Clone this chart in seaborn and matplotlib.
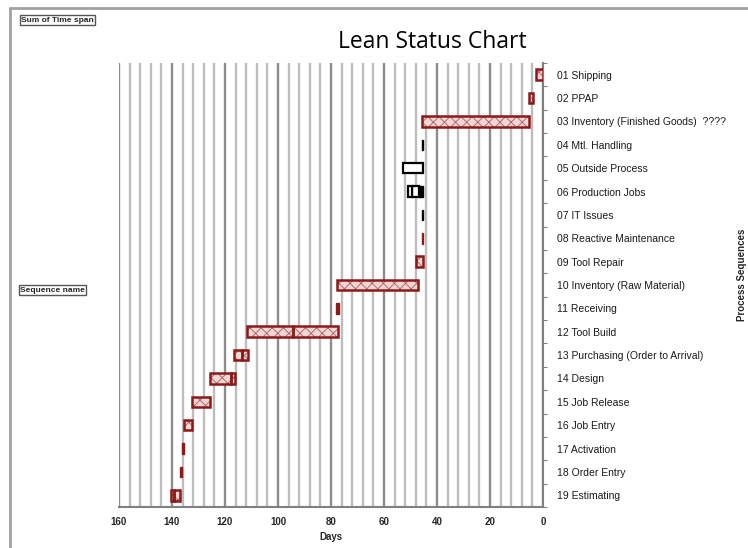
import matplotlib
matplotlib.use("Agg")
import matplotlib.pyplot as plt
from matplotlib.lines import Line2D
from matplotlib.ticker import MultipleLocator
import seaborn as sns

# process sequences, top to bottom
tasks = ["01 Shipping", "02 PPAP", "03 Inventory (Finished Goods)  ????",
         "04 Mtl. Handling", "05 Outside Process", "06 Production Jobs",
         "07 IT Issues", "08 Reactive Maintenance", "09 Tool Repair",
         "10 Inventory (Raw Material)", "11 Receiving", "12 Tool Build",
         "13 Purchasing (Order to Arrival)", "14 Design", "15 Job Release",
         "16 Job Entry", "17 Activation", "18 Order Entry", "19 Estimating"]

# time span segments (days before ship)
seg_task = [0, 1, 2, 3, 4, 5, 5, 5, 6, 7, 8, 9, 10, 11, 11, 12, 12,
            13, 13, 14, 15, 16, 17, 18, 18]
seg_start = [0.0, 3.8, 5.2, 45.1, 45.2, 45.2, 46.9, 49.5, 45.1, 45.3, 45.3,
             47.2, 77.0, 77.5, 94.3, 111.4, 113.4, 116.4, 117.9, 125.5,
             132.4, 135.5, 136.3, 137.0, 139.1]
seg_end = [2.6, 5.3, 45.6, 45.5, 52.9, 46.9, 49.5, 51.1, 45.5, 45.7, 47.8,
           77.9, 78.3, 94.3, 111.6, 113.4, 116.6, 117.9, 125.6, 132.6,
           135.5, 136.4, 137.1, 139.1, 140.5]
seg_kind = ["red", "red", "red", "black", "white", "black", "white", "white",
            "black", "darkred", "red", "red", "darkred", "red", "red", "red",
            "red", "red", "red", "red", "red", "darkred", "darkred", "red", "red"]

sns.set_style("white")
plt.rcParams['font.family'] = ['Liberation Sans', 'DejaVu Sans']
plt.rcParams['hatch.linewidth'] = 0.7

fig = plt.figure(figsize=(7.48, 5.48), dpi=100)
ax = fig.add_axes([119 / 748, 1 - 507 / 548, 424 / 748, 444 / 548])

red = "#8b1a1a"
h = 0.45
for t, s, e, k in zip(seg_task, seg_start, seg_end, seg_kind):
    w = e - s
    if k == "red":
        ax.barh(t, w, left=s, height=h, color="#f1d6d6", hatch="xxx",
                edgecolor="#b86a6a", linewidth=0, zorder=3)
        ax.barh(t, w, left=s, height=h, fill=False, edgecolor=red,
                linewidth=1.8, zorder=4)
    elif k == "darkred":
        ax.barh(t, w, left=s, height=h, color=red, edgecolor=red,
                linewidth=1.0, zorder=4)
    elif k == "black":
        ax.barh(t, w, left=s, height=h, color="black", edgecolor="black",
                linewidth=1.0, zorder=4)
    else:
        ax.barh(t, w, left=s, height=h, color="white", edgecolor="black",
                linewidth=1.6, zorder=4)

ax.set_xlim(160, 0)
ax.set_ylim(len(tasks) - 0.5, -0.5)

ax.xaxis.set_major_locator(MultipleLocator(20))
ax.xaxis.set_minor_locator(MultipleLocator(4))
ax.grid(which="major", axis="x", color="#8c8c8c", linewidth=1.7, zorder=0)
ax.grid(which="minor", axis="x", color="#bdbdbd", linewidth=1.7, zorder=0)
ax.set_axisbelow(True)

ax.yaxis.tick_right()
ax.set_yticks([i - 0.5 for i in range(len(tasks) + 1)])
ax.set_yticklabels([])
ax.set_yticks(range(len(tasks)), minor=True)
ax.set_yticklabels(tasks, minor=True, fontsize=7.5, color="#1a1a1a")
ax.tick_params(axis="y", which="major", length=3, color="#808080", right=True, left=False)
ax.tick_params(axis="y", which="minor", length=0, pad=10, right=True, left=False)
ax.tick_params(axis="x", which="major", length=5, color="#808080", labelsize=7, pad=2)
ax.tick_params(axis="x", which="minor", length=0)
for lab in ax.get_xticklabels():
    lab.set_fontweight("bold")

for side in ["top", "left"]:
    ax.spines[side].set_visible(False)
for side in ["bottom", "right"]:
    ax.spines[side].set_color("#808080")
    ax.spines[side].set_linewidth(1.5)

ax.set_xlabel("Days", fontsize=7, fontweight="bold", labelpad=4)
fig.text(432 / 748, 1 - 42 / 548, "Lean Status Chart", fontsize=16.5,
         ha="center", va="center", color="black", family=["Open Sans", "DejaVu Sans"])
fig.text(742 / 748, 1 - 275 / 548, "Process Sequences", fontsize=7,
         fontweight="bold", rotation=90, ha="center", va="center")

box = dict(boxstyle="square,pad=0.15", facecolor="white", edgecolor="#555555", linewidth=1)
fig.text(21 / 748, 1 - 20 / 548, "Sum of Time span", fontsize=6, fontweight="bold",
         va="center", ha="left", bbox=box)
fig.text(20 / 748, 1 - 290 / 548, "Sequence name", fontsize=6, fontweight="bold",
         va="center", ha="left", bbox=box)

fig.add_artist(Line2D([10 / 748, 1], [1 - 8 / 548] * 2, color="#a0a0a0", linewidth=2,
                      transform=fig.transFigure))
fig.add_artist(Line2D([10 / 748] * 2, [0, 1 - 8 / 548], color="#a0a0a0", linewidth=2,
                      transform=fig.transFigure))

fig.savefig("out.png", dpi=100)
